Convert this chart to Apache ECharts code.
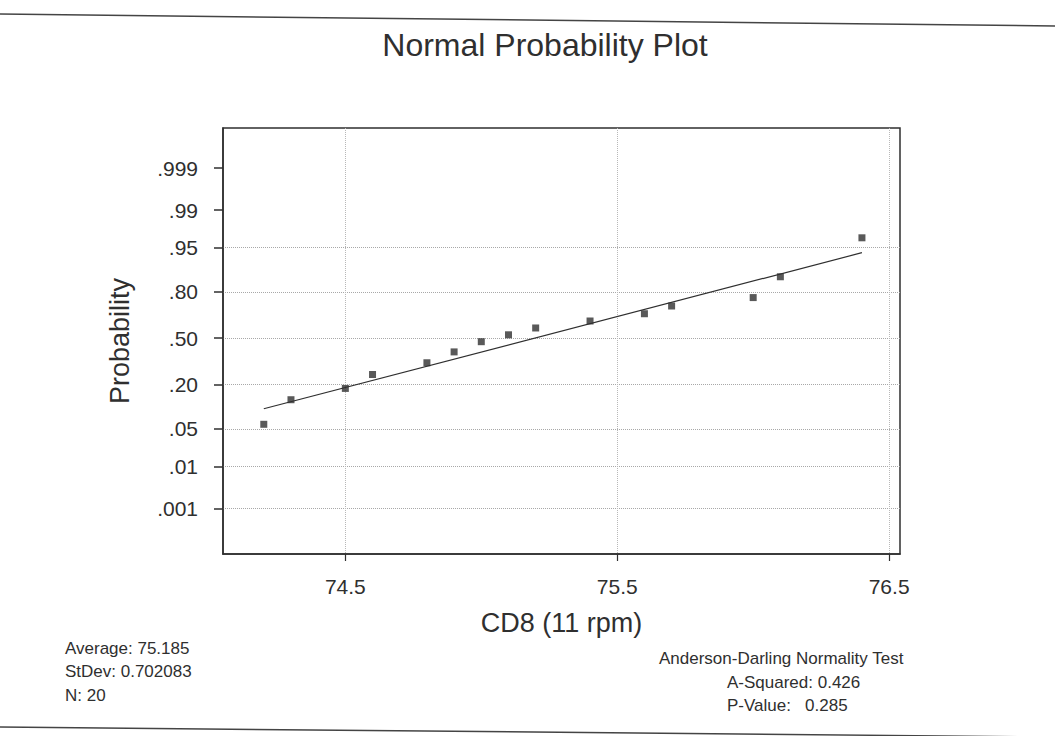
<!DOCTYPE html>
<html><head><meta charset="utf-8">
<script src="https://cdn.jsdelivr.net/npm/echarts@6/dist/echarts.min.js"></script>
<style>html,body{margin:0;padding:0;background:#fff}#c{width:1055px;height:736px}</style>
</head><body><div id="c"></div>
<script>
// ---- data ----
const xValues = [74.2, 74.3, 74.5, 74.6, 74.8, 74.9, 75.0, 75.1, 75.2, 75.4, 75.6, 75.7, 76.0, 76.1, 76.4];
const probValues = [0.059, 0.132, 0.181, 0.255, 0.328, 0.402, 0.475, 0.525, 0.574, 0.623, 0.672, 0.721, 0.770, 0.868, 0.966];
const fitX = [74.2, 76.4];
const fitP = [0.100, 0.940];
const probTicks = [0.001, 0.01, 0.05, 0.20, 0.50, 0.80, 0.95, 0.99, 0.999];
const probTickLabels = ['.001', '.01', '.05', '.20', '.50', '.80', '.95', '.99', '.999'];
const probGridShown = [true, true, true, true, true, true, true, false, false];
const xTicks = [74.5, 75.5, 76.5];
const titleText = 'Normal Probability Plot';
const xName = 'CD8 (11 rpm)';
const yName = 'Probability';
const statsLeft = ['Average: 75.185', 'StDev: 0.702083', 'N: 20'];
const testTitle = 'Anderson-Darling Normality Test';
const testLines = ['A-Squared: 0.426', 'P-Value:\u00a0\u00a0\u00a00.285'];

// inverse standard normal CDF (probability axis transform)
function invNorm(p) {
  const a = [-3.969683028665376e+01, 2.209460984245205e+02, -2.759285104469687e+02, 1.383577518672690e+02, -3.066479806614716e+01, 2.506628277459239e+00];
  const b = [-5.447609879822406e+01, 1.615858368580409e+02, -1.556989798598866e+02, 6.680131188771972e+01, -1.328068155288572e+01];
  const c = [-7.784894002430293e-03, -3.223964580411365e-01, -2.400758277161838e+00, -2.549732539343734e+00, 4.374664141464968e+00, 2.938163982698783e+00];
  const d = [7.784695709041462e-03, 3.224671290700398e-01, 2.445134137142996e+00, 3.754408661907416e+00];
  const pl = 0.02425, ph = 1 - pl;
  let q, r;
  if (p < pl) {
    q = Math.sqrt(-2 * Math.log(p));
    return (((((c[0] * q + c[1]) * q + c[2]) * q + c[3]) * q + c[4]) * q + c[5]) / ((((d[0] * q + d[1]) * q + d[2]) * q + d[3]) * q + 1);
  }
  if (p <= ph) {
    q = p - 0.5; r = q * q;
    return (((((a[0] * r + a[1]) * r + a[2]) * r + a[3]) * r + a[4]) * r + a[5]) * q / (((((b[0] * r + b[1]) * r + b[2]) * r + b[3]) * r + b[4]) * r + 1);
  }
  q = Math.sqrt(-2 * Math.log(1 - p));
  return -(((((c[0] * q + c[1]) * q + c[2]) * q + c[3]) * q + c[4]) * q + c[5]) / ((((d[0] * q + d[1]) * q + d[2]) * q + d[3]) * q + 1);
}

const tickZ = probTicks.map(invNorm);
const gridColors = probGridShown.map(s => s ? '#a8a8a8' : 'rgba(0,0,0,0)');
const pointData = xValues.map((x, i) => [x, invNorm(probValues[i])]);
const lineData = fitX.map((x, i) => [x, invNorm(fitP[i])]);

const ink = '#2f2f2f';
const font = '"Liberation Sans", Arial, Helvetica, sans-serif';

const chart = echarts.init(document.getElementById('c'), null, { renderer: 'svg' });
chart.setOption({
  backgroundColor: '#ffffff',
  animation: false,
  title: {
    text: titleText,
    left: 540, top: 24, textAlign: 'center',
    textStyle: { fontFamily: font, fontSize: 32, fontWeight: 'normal', color: ink }
  },
  grid: {
    left: 223, right: 155, top: 128, bottom: 182,
    show: true, borderColor: ink, borderWidth: 1.5,
    outerBoundsMode: 'none'
  },
  xAxis: {
    type: 'value', min: 74.05, max: 76.54,
    name: xName, nameLocation: 'middle', nameGap: 55,
    nameTextStyle: { fontFamily: font, fontSize: 27, color: ink },
    axisLine: { show: true, onZero: false, lineStyle: { color: ink, width: 1.5 } },
    axisTick: { show: true, length: 7, customValues: xTicks, lineStyle: { color: ink, width: 1.2 } },
    axisLabel: { customValues: xTicks, margin: 22, fontFamily: font, fontSize: 21, color: ink,
      formatter: v => v.toFixed(1) },
    splitLine: { show: true, lineStyle: { color: '#b8b8b8', type: 'dotted', width: 1 } }
  },
  yAxis: {
    type: 'value', min: -3.92, max: 3.82,
    name: yName, nameLocation: 'middle', nameGap: 90, nameRotate: 90,
    nameTextStyle: { fontFamily: font, fontSize: 27, color: ink },
    axisLine: { show: true, onZero: false, lineStyle: { color: ink, width: 1.5 } },
    axisTick: { show: true, length: 9, customValues: tickZ, lineStyle: { color: ink, width: 1.5 } },
    axisLabel: { customValues: tickZ, margin: 25, fontFamily: font, fontSize: 21, color: ink,
      formatter: v => {
        let best = 0;
        for (let i = 1; i < tickZ.length; i++) if (Math.abs(tickZ[i] - v) < Math.abs(tickZ[best] - v)) best = i;
        return probTickLabels[best];
      } },
    splitLine: { show: true, lineStyle: { color: gridColors, type: 'dotted', width: 1 } }
  },
  series: [
    {
      type: 'line', data: lineData, showSymbol: false, symbol: 'none',
      lineStyle: { color: ink, width: 1.2 }, silent: true, z: 2
    },
    {
      type: 'scatter', data: pointData, symbol: 'rect', symbolSize: 7,
      itemStyle: { color: ink }, z: 3
    }
  ],
  graphic: [
    { type: 'line', shape: { x1: 0, y1: 14, x2: 1055, y2: 26 }, style: { stroke: '#444', lineWidth: 1.5 } },
    { type: 'line', shape: { x1: 0, y1: 727, x2: 1055, y2: 737 }, style: { stroke: '#444', lineWidth: 1.5 } },
    { type: 'text', left: 65, top: 640, style: { text: statsLeft[0], fontFamily: font, fontSize: 17, fill: ink } },
    { type: 'text', left: 65, top: 663, style: { text: statsLeft[1], fontFamily: font, fontSize: 17, fill: ink } },
    { type: 'text', left: 65, top: 687, style: { text: statsLeft[2], fontFamily: font, fontSize: 17, fill: ink } },
    { type: 'text', left: 659, top: 650, style: { text: testTitle, fontFamily: font, fontSize: 17, fill: ink } },
    { type: 'text', left: 727, top: 674, style: { text: testLines[0], fontFamily: font, fontSize: 17, fill: ink } },
    { type: 'text', left: 727, top: 697, style: { text: testLines[1], fontFamily: font, fontSize: 17, fill: ink } }
  ]
});
</script>
</body></html>
